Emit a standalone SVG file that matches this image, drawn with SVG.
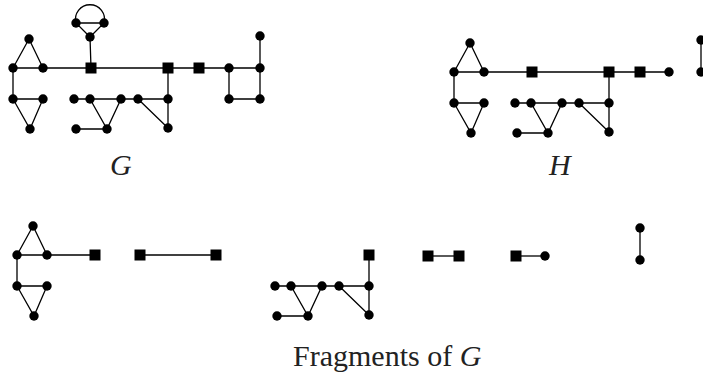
<svg xmlns="http://www.w3.org/2000/svg" width="703" height="375" viewBox="0 0 703 375">
<style>
.e{stroke:#000;stroke-width:1.3;fill:none}
.t{font-family:"Liberation Serif","Times New Roman",serif;font-size:30px;fill:#222}
.i{font-style:italic}
</style>
<defs>
<circle id="c" r="4.7"/>
<rect id="q" x="-5.5" y="-5.5" width="11" height="11"/>
</defs>
<rect width="703" height="375" fill="#fff"/>
<g id="connectors">
<g id="G-edges">
<path class="e" d="M29,39 L13,68 M29,39 L43,68 M13,68 L260,68 M13,68 L13,99 M13,99 L43,99 L30,129 Z"/>
<path class="e" d="M91,68 L90,37 M76,23 L104,23 L90,37 Z M76,23 A14.5,14.5 0 1 1 104,23"/>
<path class="e" d="M260,36 L260,99 L229,99 L229,68"/>
<path class="e" d="M74,99 L168,99 M90,99 L107,129 L121,99 M76,129 L107,129 M138,99 L168,128 M168,68 L168,128"/>
</g>
<g id="H-edges">
<path class="e" d="M470,43 L454,72 M470,43 L484,72 M454,72 L669,72 M454,72 L454,103 M454,103 L484,103 L471,133 Z"/>
<path class="e" d="M701,40 L701,72"/>
<path class="e" d="M515,103 L609,103 M531,103 L548,133 L562,103 M517,133 L548,133 M579,103 L609,132 M609,72 L609,132"/>
</g>
<g id="F-edges">
<path class="e" d="M33,226 L17,255 M33,226 L47,255 M17,255 L95,255 M17,255 L17,286 M17,286 L47,286 L34,316 Z"/>
<path class="e" d="M140,255 L216,255"/>
<path class="e" d="M275,286 L370,286 M291,286 L308,316 L322,286 M277,316 L308,316 M339,286 L369,315 M369,255 L369,315"/>
<path class="e" d="M428,256 L459,256"/>
<path class="e" d="M516,256 L545,256"/>
<path class="e" d="M640,228 L640,260"/>
</g>
</g>
<g id="G">
<use href="#c" x="76" y="23"/><use href="#c" x="104" y="23"/><use href="#c" x="90" y="37"/>
<use href="#c" x="29" y="39"/><use href="#c" x="13" y="68"/><use href="#c" x="43" y="68"/>
<use href="#c" x="13" y="99"/><use href="#c" x="43" y="99"/><use href="#c" x="30" y="129"/>
<use href="#q" x="91" y="68"/><use href="#q" x="168" y="68"/><use href="#q" x="199" y="68"/>
<use href="#c" x="229" y="68"/><use href="#c" x="260" y="68"/><use href="#c" x="260" y="36"/>
<use href="#c" x="229" y="99"/><use href="#c" x="260" y="99"/>
<use href="#c" x="74" y="99"/><use href="#c" x="90" y="99"/><use href="#c" x="121" y="99"/><use href="#c" x="138" y="99"/><use href="#c" x="168" y="99"/>
<use href="#c" x="76" y="129"/><use href="#c" x="107" y="129"/><use href="#c" x="168" y="128"/>
</g>
<g id="H">
<use href="#c" x="470" y="43"/><use href="#c" x="454" y="72"/><use href="#c" x="484" y="72"/>
<use href="#c" x="454" y="103"/><use href="#c" x="484" y="103"/><use href="#c" x="471" y="133"/>
<use href="#q" x="532" y="72"/><use href="#q" x="609" y="72"/><use href="#q" x="640" y="72"/>
<use href="#c" x="669" y="72"/><use href="#c" x="701" y="40"/><use href="#c" x="701" y="72"/>
<use href="#c" x="515" y="103"/><use href="#c" x="531" y="103"/><use href="#c" x="562" y="103"/><use href="#c" x="579" y="103"/><use href="#c" x="609" y="103"/>
<use href="#c" x="517" y="133"/><use href="#c" x="548" y="133"/><use href="#c" x="609" y="132"/>
</g>
<g id="F1">
<use href="#c" x="33" y="226"/><use href="#c" x="17" y="255"/><use href="#c" x="47" y="255"/>
<use href="#c" x="17" y="286"/><use href="#c" x="47" y="286"/><use href="#c" x="34" y="316"/>
<use href="#q" x="95" y="255"/>
</g>
<g id="F2"><use href="#q" x="140" y="255"/><use href="#q" x="216" y="255"/></g>
<g id="F3">
<use href="#q" x="369" y="255"/>
<use href="#c" x="275" y="286"/><use href="#c" x="291" y="286"/><use href="#c" x="322" y="286"/><use href="#c" x="339" y="286"/><use href="#c" x="369" y="286"/>
<use href="#c" x="277" y="316"/><use href="#c" x="308" y="316"/><use href="#c" x="369" y="315"/>
</g>
<g id="F4"><use href="#q" x="428" y="256"/><use href="#q" x="459" y="256"/></g>
<g id="F5"><use href="#q" x="516" y="256"/><use href="#c" x="545" y="256"/></g>
<g id="F6"><use href="#c" x="640" y="228"/><use href="#c" x="640" y="260"/></g>
<g id="labels">
<text class="t i" x="110" y="175">G</text>
<text class="t i" x="549" y="175">H</text>
<text class="t" x="293" y="366">Fragments of <tspan class="i">G</tspan></text>
</g>
</svg>
